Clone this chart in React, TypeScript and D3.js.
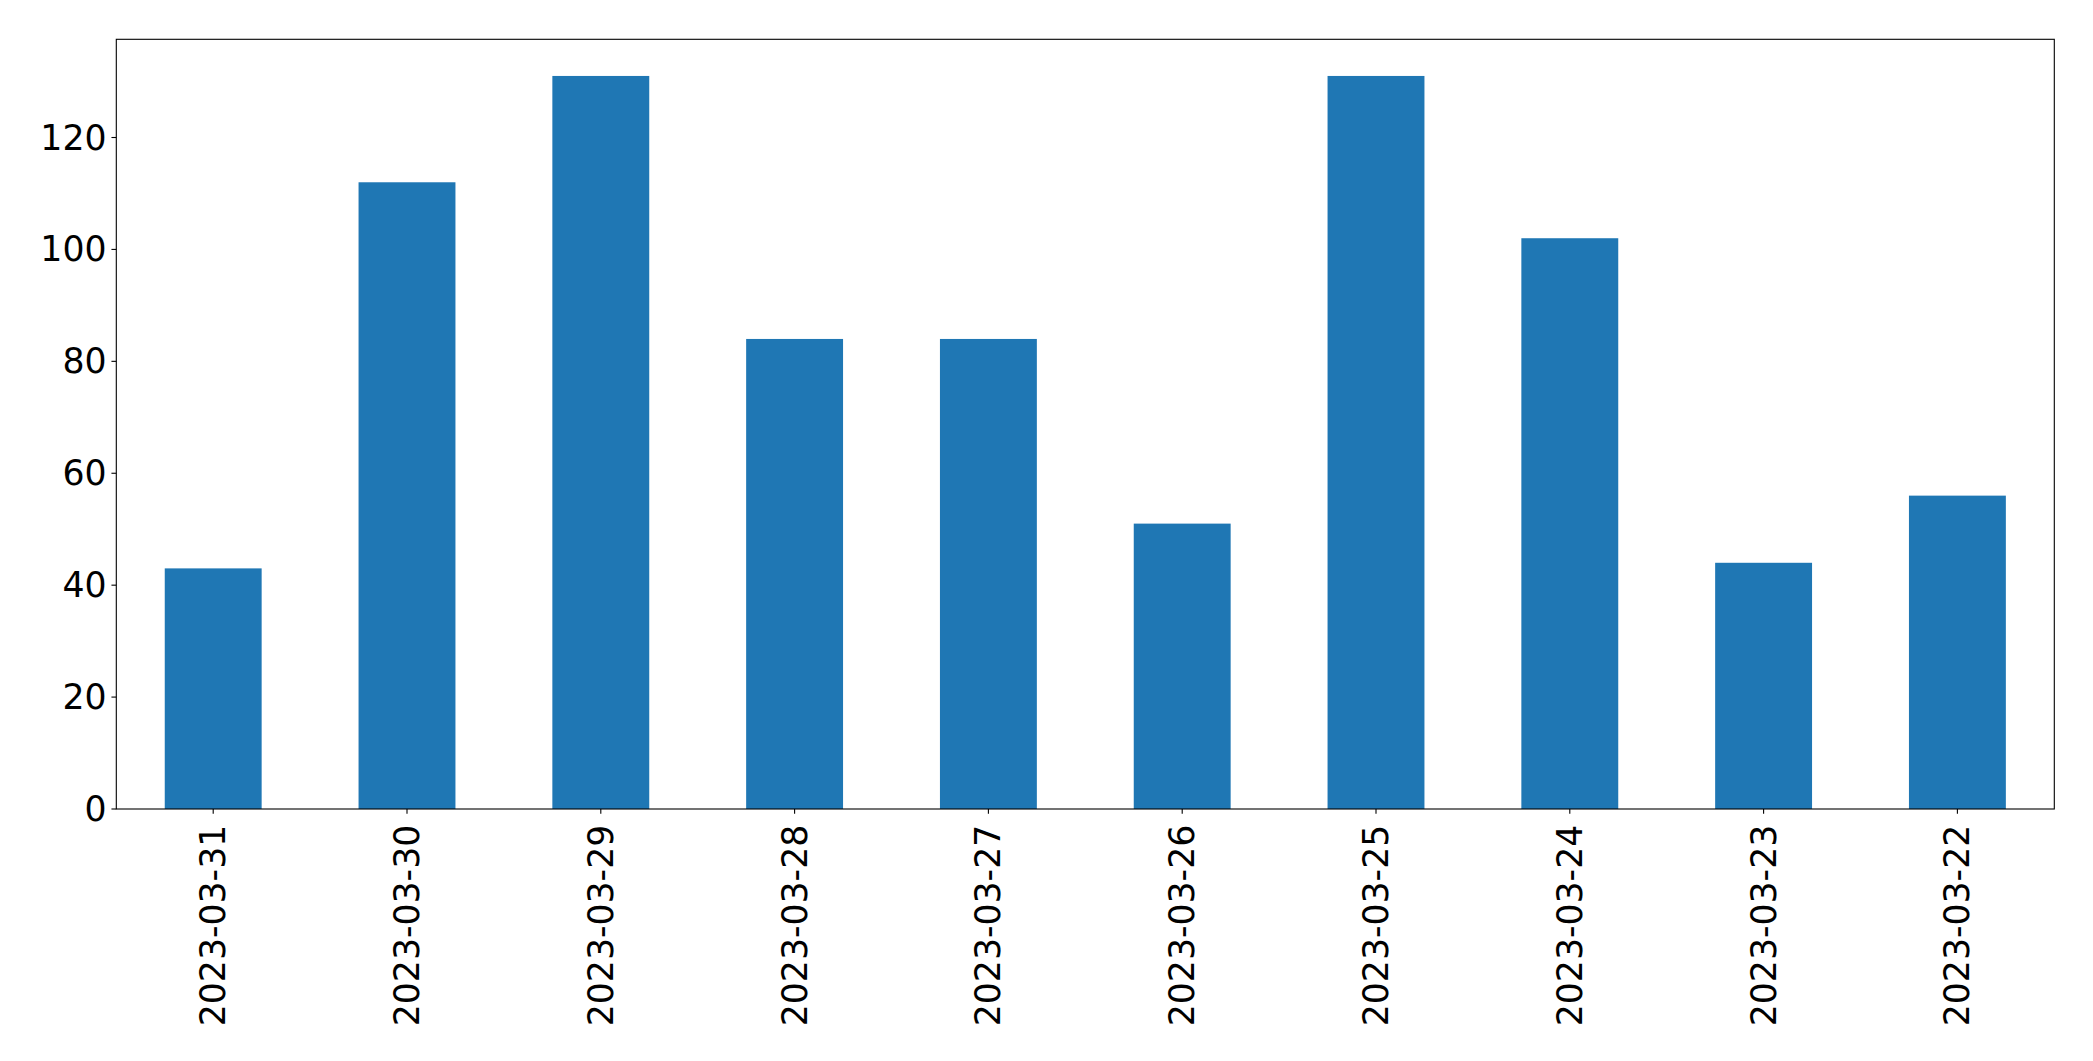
import React from "react";
import * as d3 from "d3";

const categories: string[] = [
  "2023-03-31", "2023-03-30", "2023-03-29", "2023-03-28", "2023-03-27",
  "2023-03-26", "2023-03-25", "2023-03-24", "2023-03-23", "2023-03-22",
];
const values: number[] = [43, 112, 131, 84, 84, 51, 131, 102, 44, 56];
const yTicks: number[] = [0, 20, 40, 60, 80, 100, 120];

const W = 2093;
const H = 1061;
const M = { left: 116.3, right: 2054.3, top: 39.3, bottom: 809 };
const FONT = "'DejaVu Sans', sans-serif";
const FS = 34.7;
const TICK = 4.86;
const PAD = 4.86;

export default function App() {
  const x = d3
    .scaleLinear()
    .domain([-0.5, categories.length - 0.5])
    .range([M.left, M.right]);
  const yMax = d3.max(values)! * 1.05;
  const y = d3.scaleLinear().domain([0, yMax]).range([M.bottom, M.top]);
  const bw = x(0.25) - x(-0.25);

  return (
    <svg
      width={W}
      height={H}
      style={{ position: "absolute", left: 0, top: 0, background: "#fff" }}
    >
      <rect x={0} y={0} width={W} height={H} fill="#fff" />
      {values.map((v, i) => (
        <rect
          key={i}
          x={x(i) - bw / 2}
          y={y(v)}
          width={bw}
          height={y(0) - y(v)}
          fill="#1f77b4"
        />
      ))}
      <rect
        x={M.left}
        y={M.top}
        width={M.right - M.left}
        height={M.bottom - M.top}
        fill="none"
        stroke="#000"
        strokeWidth={1.1}
      />
      {yTicks.map((t) => (
        <g key={t}>
          <line
            x1={M.left - TICK}
            x2={M.left}
            y1={y(t)}
            y2={y(t)}
            stroke="#000"
            strokeWidth={1.1}
          />
          <text
            x={M.left - TICK - PAD}
            y={y(t)}
            textAnchor="end"
            dominantBaseline="central"
            fontFamily={FONT}
            fontSize={FS}
            fill="#000"
          >
            {t}
          </text>
        </g>
      ))}
      {categories.map((c, i) => (
        <g key={c}>
          <line
            x1={x(i)}
            x2={x(i)}
            y1={M.bottom}
            y2={M.bottom + TICK}
            stroke="#000"
            strokeWidth={1.1}
          />
          <text
            transform={`translate(${x(i)},${M.bottom + TICK + PAD + 6}) rotate(-90)`}
            textAnchor="end"
            dominantBaseline="central"
            fontFamily={FONT}
            fontSize={FS}
            fill="#000"
          >
            {c}
          </text>
        </g>
      ))}
    </svg>
  );
}
